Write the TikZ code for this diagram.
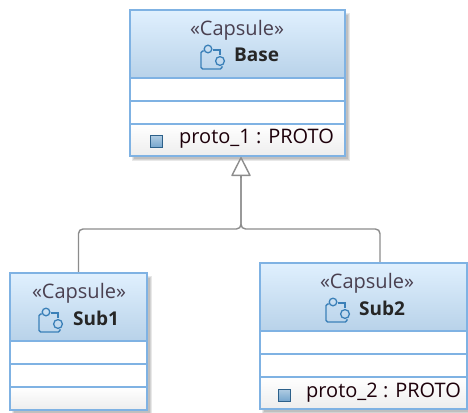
\documentclass[tikz,border=0pt]{standalone}
\usepackage{fontspec}
\setmainfont{Open Sans}
\usetikzlibrary{arrows.meta}
\definecolor{edgeblue}{HTML}{7FB2E3}
\definecolor{headtop}{HTML}{E0F0FE}
\definecolor{headbot}{HTML}{B8D2E9}
\definecolor{iconblue}{HTML}{3B80B8}
\definecolor{linegray}{HTML}{8C8C8C}
\definecolor{stereo}{HTML}{4A4050}
\tikzset{
  x=1pt,y=-1pt,
  boxedge/.style={draw=edgeblue,line width=1.6pt,outer sep=0pt},
  header/.style={boxedge,top color=headtop,bottom color=headbot,inner sep=0pt},
  blankpart/.style={boxedge,fill=white,inner sep=0pt},
  lastpart/.style={boxedge,top color=white,bottom color=black!7,inner sep=0pt},
  stereotext/.style={font=\fontsize{20}{22}\selectfont,text=stereo,inner sep=0pt},
  titletext/.style={font=\fontsize{19}{21}\selectfont\bfseries,text=black!85,inner sep=0pt,anchor=west},
  attrtext/.style={font=\fontsize{20}{22}\selectfont,text=black!85!purple,inner sep=0pt,anchor=west},
  attrmark/.style={draw=black!25!iconblue,line width=.6pt,top color=iconblue!40,bottom color=iconblue!70,minimum size=12pt,inner sep=0pt},
  inherit/.style={draw=linegray,line width=1.4pt,rounded corners=4.5pt},
  openhead/.style={-{Triangle[open,length=20pt,width=20pt,line width=1.4pt,round]}},
  softshadow/.style={fill=black,fill opacity=.09,draw=none},
}
% name, left, top, right, stereotype centre x, icon left x, title left x, title, last compartment height
\newcommand{\capsulebox}[9]{
  \fill[softshadow] (#2+2,#3+3) rectangle (#4+5,#3+114+#9+5);
  \fill[softshadow] (#2+3,#3+4) rectangle (#4+4,#3+114+#9+4);
  \fill[softshadow] (#2+4,#3+5) rectangle (#4+3,#3+114+#9+3);
  \node[header,minimum width=#4pt-#2pt,minimum height=68pt,anchor=north west] (#1) at (#2,#3) {};
  \node[blankpart,minimum width=#4pt-#2pt,minimum height=23pt,anchor=north west] (#1a) at (#2,#3+68) {};
  \node[blankpart,minimum width=#4pt-#2pt,minimum height=23pt,anchor=north west] (#1b) at (#2,#3+91) {};
  \node[lastpart,minimum width=#4pt-#2pt,minimum height=#9pt,anchor=north west] (#1c) at (#2,#3+114) {};
  \node[stereotext] (#1s) at (#5,#3+20) {«Capsule»};
  \draw[iconblue,line width=1.4pt,rounded corners=1.6pt] (#6+4,#3+41) -- (#6+1,#3+41) -- (#6+1,#3+59) -- (#6+22,#3+59) -- (#6+22,#3+56);
  \draw[iconblue,line width=1.3pt] (#6+8,#3+39) circle[radius=3.8];
  \draw[iconblue,line width=1.3pt] (#6+20,#3+51) circle[radius=4.4];
  \draw[iconblue,line width=1.3pt] (#6+13,#3+40) -- (#6+20,#3+40) -- (#6+20,#3+45);
  \node[titletext] (#1t) at (#7,#3+45) {#8};
}
\begin{document}
\begin{tikzpicture}
\useasboundingbox (0,0) rectangle (468,412);
\fill[white] (0,0) rectangle (468,412);
\coordinate (tipend) at (241,157);
\coordinate (fork) at (241,229);
\coordinate (leftup) at (78.5,273);
\coordinate (rightup) at (380,263);
\draw[inherit] (leftup) -- (78.5,229) -- (fork) -- (241,176);
\draw[inherit] (rightup) -- (380,229) -- (fork) -- (241,176);
\capsulebox{base}{130}{10}{345}{237}{200}{234}{Base}{32}
\capsulebox{subone}{10}{273}{147}{79}{38}{73}{Sub1}{23}
\capsulebox{subtwo}{260}{263}{467}{367}{325}{359}{Sub2}{32}
\node[attrmark] (mone) at (156.5,141.5) {};
\node[attrtext] (aone) at (179,139) {proto\_1 : PROTO};
\node[attrmark] (mtwo) at (284.5,395) {};
\node[attrtext] (atwo) at (306,392.5) {proto\_2 : PROTO};
\draw[inherit,openhead,rounded corners=0pt] (241,178) -- (tipend);
\end{tikzpicture}
\end{document}
